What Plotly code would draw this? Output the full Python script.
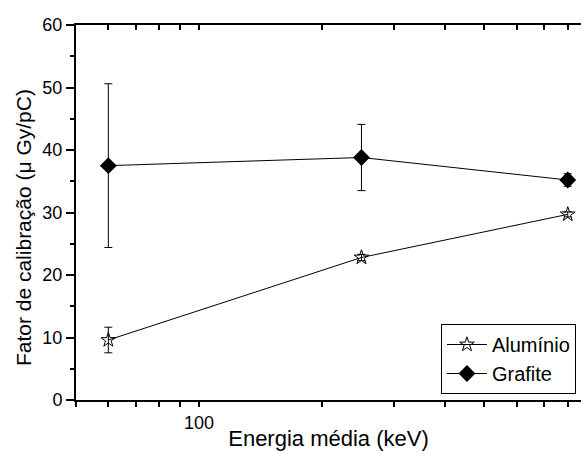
import plotly.graph_objects as go
import math

energia = [60, 250, 800]
aluminio = [9.6, 22.8, 29.7]
aluminio_err = [2.05, 0.5, 0.4]
grafite = [37.5, 38.8, 35.2]
grafite_err = [13.1, 5.3, 1.0]

xtick_vals = [50, 60, 70, 80, 90, 100, 200, 300, 400, 500, 600, 700, 800]
xtick_text = ["", "", "", "", "", "100", "", "", "", "", "", "", ""]
ytick_vals = [0, 10, 20, 30, 40, 50, 60]

FONT = "Liberation Sans, Arial, sans-serif"

fig = go.Figure()
fig.add_trace(go.Scatter(
    x=energia, y=aluminio, name="Alumínio", mode="lines+markers",
    line=dict(color="black", width=1),
    marker=dict(symbol="star-open", size=11, color="black", line=dict(width=1)),
    error_y=dict(type="data", array=aluminio_err, color="black", thickness=1, width=4),
))
fig.add_trace(go.Scatter(
    x=energia, y=grafite, name="Grafite", mode="lines+markers",
    line=dict(color="black", width=1),
    marker=dict(symbol="diamond", size=13, color="black"),
    error_y=dict(type="data", array=grafite_err, color="black", thickness=1, width=4),
))
# invisible trace for top axis
fig.add_trace(go.Scatter(x=energia, y=grafite, xaxis="x2", mode="markers",
                         marker=dict(opacity=0), showlegend=False, hoverinfo="skip"))

xr = [math.log10(50), math.log10(862)]

fig.update_layout(
    width=581, height=451,
    margin=dict(l=76, r=0, t=25, b=51),
    paper_bgcolor="white", plot_bgcolor="white",
    font=dict(family=FONT, color="black", size=18),
    showlegend=True,
    legend=dict(x=0.99, y=0.016, xanchor="right", yanchor="bottom",
                bordercolor="black", borderwidth=1, bgcolor="white",
                font=dict(size=20), tracegroupgap=0, itemwidth=40),
    xaxis=dict(type="log", range=xr, tickvals=xtick_vals, ticktext=xtick_text,
               ticks="outside", ticklen=5, tickwidth=2, tickcolor="black",
               showline=True, linewidth=2, linecolor="black", showgrid=False,
               zeroline=False, tickfont=dict(size=18),
               title=dict(text="Energia média (keV)", font=dict(size=22), standoff=0)),
    xaxis2=dict(type="log", range=xr, overlaying="x", side="top", tickvals=xtick_vals,
                ticktext=[""] * len(xtick_vals), ticks="inside", ticklen=5, tickwidth=2,
                tickcolor="black", showline=True, linewidth=2, linecolor="black",
                showgrid=False, zeroline=False, anchor="y"),
    yaxis=dict(range=[0, 60], tickvals=ytick_vals, ticks="outside", ticklen=8,
               tickwidth=2, tickcolor="black", showline=True, linewidth=2,
               linecolor="black", showgrid=False, zeroline=False,
               tickfont=dict(size=18), ticklabelstandoff=0,
               minor=dict(dtick=5, ticks="outside", ticklen=4, tickwidth=2, tickcolor="black")),
    annotations=[dict(text="Fator de calibração (μ Gy/pC)", textangle=-90,
                      xref="paper", yref="paper", x=-0.105, y=0.461,
                      xanchor="center", yanchor="middle", showarrow=False,
                      font=dict(size=21, family=FONT, color="black"))],
)

fig.write_html("out.html", config={"displayModeBar": False},
               post_script="document.body.style.margin='0';")
